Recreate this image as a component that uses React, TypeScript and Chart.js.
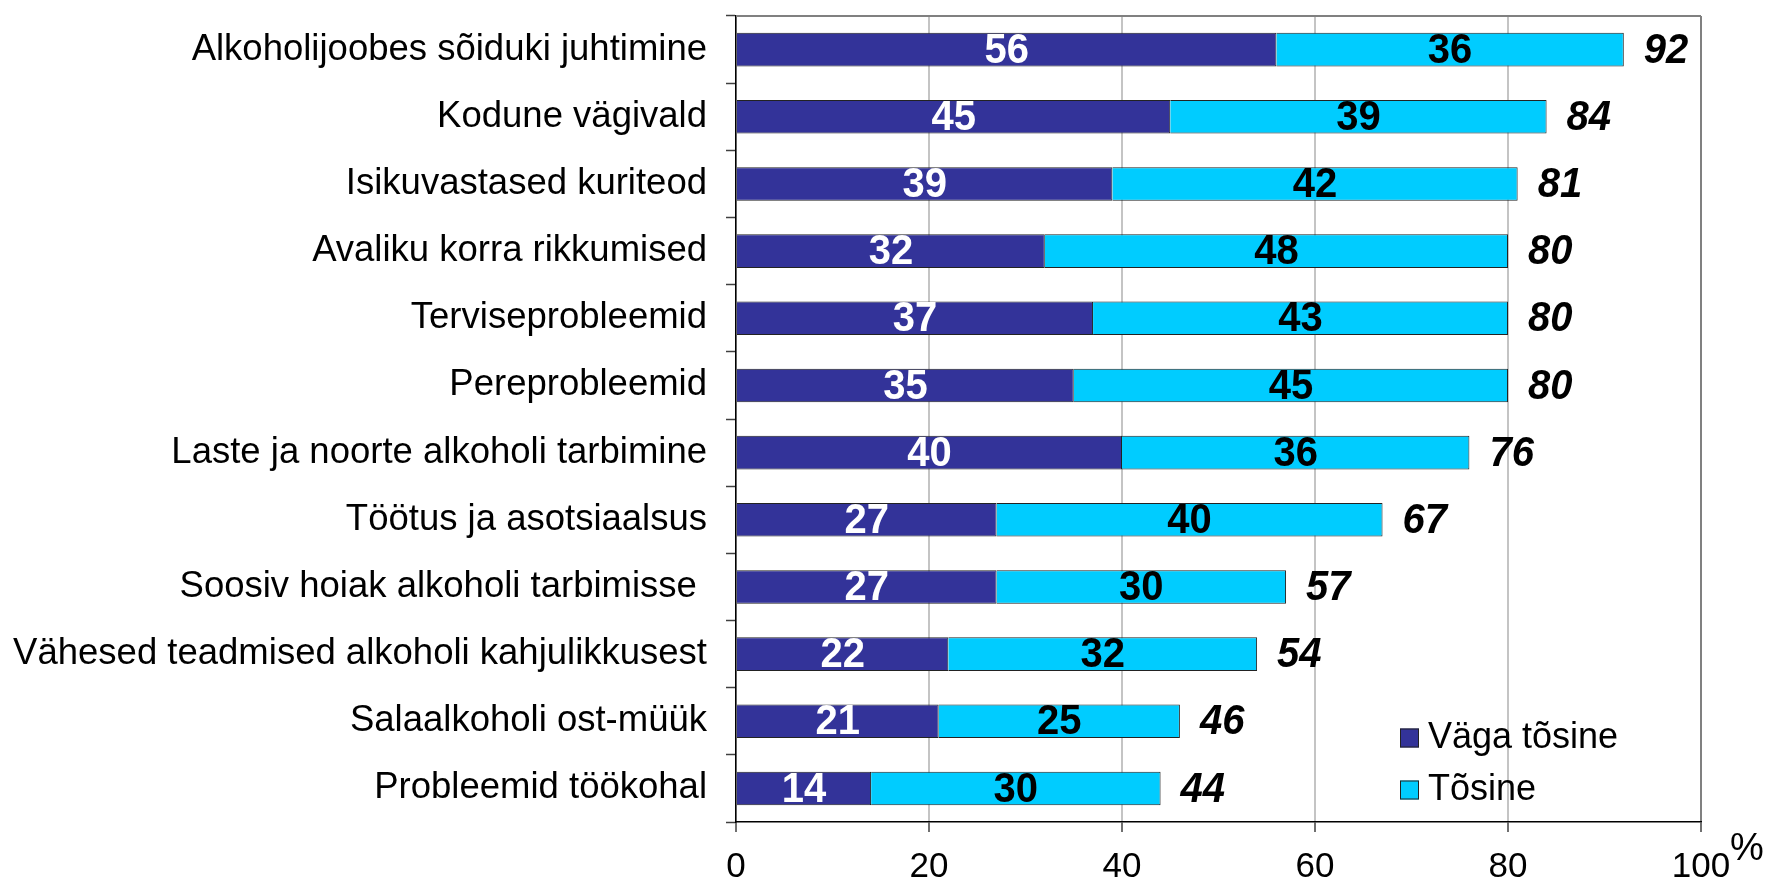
import React, { useEffect, useRef } from "react";
import { Chart, registerables } from "chart.js";

Chart.register(...registerables);

const categories = [
  "Alkoholijoobes sõiduki juhtimine",
  "Kodune vägivald",
  "Isikuvastased kuriteod",
  "Avaliku korra rikkumised",
  "Terviseprobleemid",
  "Pereprobleemid",
  "Laste ja noorte alkoholi tarbimine",
  "Töötus ja asotsiaalsus",
  "Soosiv hoiak alkoholi tarbimisse ",
  "Vähesed teadmised alkoholi kahjulikkusest",
  "Salaalkoholi ost-müük",
  "Probleemid töökohal",
];

const vagaTosine = [56, 45, 39, 32, 37, 35, 40, 27, 27, 22, 21, 14];
const tosine = [36, 39, 42, 48, 43, 45, 36, 40, 30, 32, 25, 30];
const totals = [92, 84, 81, 80, 80, 80, 76, 67, 57, 54, 46, 44];
const seriesNames = ["Väga tõsine", "Tõsine"];
const seriesColors = ["#333399", "#00CCFF"];
const axisMax = 100;
const axisStep = 20;
const unitLabel = "%";

const FONT = "'Liberation Sans', Arial, Helvetica, sans-serif";

export default function App() {
  const ref = useRef<HTMLCanvasElement>(null);

  useEffect(() => {
    if (!ref.current) return;

    const drawStretched = (ctx: any, text: string, x: number, y: number, sy: number) => {
      ctx.save();
      ctx.translate(x, y);
      ctx.scale(1, sy);
      ctx.fillText(text, 0, 0);
      ctx.restore();
    };

    const labelsPlugin = {
      id: "valueLabels",
      afterDatasetsDraw(chart: any) {
        const ctx = chart.ctx;
        ctx.save();
        ctx.font = `bold 40px ${FONT}`;
        ctx.textAlign = "center";
        ctx.textBaseline = "middle";
        chart.data.datasets.forEach((ds: any, di: number) => {
          const meta = chart.getDatasetMeta(di);
          meta.data.forEach((bar: any, i: number) => {
            const p = bar.getProps(["x", "y", "base"], true);
            ctx.fillStyle = di === 0 ? "#ffffff" : "#000000";
            drawStretched(ctx, String(ds.data[i]), (p.x + p.base) / 2, p.y + 1.5, 1.06);
          });
        });
        const xs = chart.scales.x;
        const ys = chart.scales.y;
        ctx.font = `italic bold 40px ${FONT}`;
        ctx.textAlign = "left";
        ctx.fillStyle = "#000000";
        totals.forEach((t, i) => {
          drawStretched(ctx, String(t), xs.getPixelForValue(t) + 20, ys.getPixelForValue(i) + 1.5, 1.06);
        });
        ctx.restore();
      },
      afterDraw(chart: any) {
        const ctx = chart.ctx;
        const a = chart.chartArea;
        ctx.save();
        // top border
        ctx.strokeStyle = "#808080";
        ctx.lineWidth = 2;
        ctx.beginPath();
        ctx.moveTo(a.left, a.top);
        ctx.lineTo(a.right, a.top);
        ctx.stroke();
        // legend
        ctx.font = `36px ${FONT}`;
        ctx.textAlign = "left";
        ctx.textBaseline = "middle";
        seriesNames.forEach((name, k) => {
          const cy = a.bottom - 84 + k * 52;
          const bx = a.right - 301;
          ctx.fillStyle = seriesColors[k];
          ctx.fillRect(bx, cy - 9.5, 19, 19);
          ctx.strokeStyle = "#222222";
          ctx.lineWidth = 1;
          ctx.strokeRect(bx + 0.5, cy - 9, 18, 18);
          ctx.fillStyle = "#000000";
          ctx.fillText(name, bx + 28, cy);
        });
        // unit label
        ctx.font = `38px ${FONT}`;
        ctx.textBaseline = "alphabetic";
        ctx.fillText(unitLabel, a.right + 29, a.bottom + 38);
        ctx.restore();
      },
    };

    const chart = new Chart(ref.current, {
      type: "bar",
      data: {
        labels: categories,
        datasets: [
          {
            label: seriesNames[0],
            data: vagaTosine,
            backgroundColor: seriesColors[0],
            borderColor: "#222222",
            borderWidth: 1,
            barPercentage: 0.5,
            categoryPercentage: 1,
          },
          {
            label: seriesNames[1],
            data: tosine,
            backgroundColor: seriesColors[1],
            borderColor: "#222222",
            borderWidth: 1,
            barPercentage: 0.5,
            categoryPercentage: 1,
          },
        ],
      },
      options: {
        indexAxis: "y",
        animation: false,
        responsive: false,
        devicePixelRatio: 1,
        layout: { padding: { top: 16, right: 68, left: 0, bottom: 0 } },
        plugins: {
          legend: { display: false },
          tooltip: { enabled: false },
        },
        scales: {
          x: {
            stacked: true,
            min: 0,
            max: axisMax,
            ticks: {
              stepSize: axisStep,
              color: "#000000",
              font: { family: FONT, size: 35 },
              padding: 14,
              maxRotation: 0,
            },
            grid: {
              color: (c: any) => (c.tick && c.tick.value === axisMax ? "#808080" : "#c4c4c4"),
              lineWidth: 2,
              tickLength: 10,
              tickColor: "#404040",
              tickWidth: 1.5,
            },
            border: { color: "#000000", width: 1.5 },
            afterFit: (scale: any) => {
              scale.height = 58;
              scale.paddingLeft = 0;
              scale.paddingRight = 0;
            },
          },
          y: {
            stacked: true,
            ticks: {
              color: "#000000",
              font: { family: FONT, size: 36.5 },
              padding: 19,
              autoSkip: false,
            },
            grid: {
              drawOnChartArea: false,
              tickLength: 10,
              tickColor: "#404040",
              tickWidth: 1.5,
              offset: true,
            },
            border: { color: "#000000", width: 1.5 },
            afterFit: (scale: any) => {
              scale.width = 736;
              scale.paddingTop = 0;
              scale.paddingBottom = 0;
            },
          },
        },
      },
      plugins: [labelsPlugin],
    });

    return () => chart.destroy();
  }, []);

  return (
    <div style={{ position: "fixed", left: 0, top: 0, width: 1769, height: 880, background: "#ffffff" }}>
      <canvas ref={ref} width={1769} height={880} style={{ display: "block" }} />
    </div>
  );
}
